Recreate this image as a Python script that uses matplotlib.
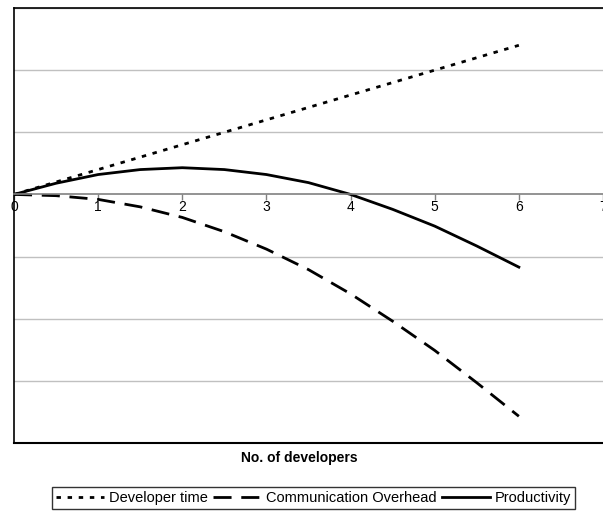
import matplotlib
matplotlib.use("Agg")
import matplotlib.pyplot as plt

plt.rcParams['font.family'] = ['Liberation Sans', 'DejaVu Sans']

developers = [0, 0.5, 1, 1.5, 2, 2.5, 3, 3.5, 4, 4.5, 5, 5.5, 6]
developer_time = [0, 0.2, 0.4, 0.6, 0.8, 1.0, 1.2, 1.4, 1.6, 1.8, 2.0, 2.2, 2.4]
communication_overhead = [0, -0.02, -0.08, -0.2, -0.37, -0.6, -0.88, -1.21, -1.6, -2.04, -2.51, -3.03, -3.57]
productivity = [0, 0.18, 0.32, 0.4, 0.43, 0.4, 0.32, 0.19, 0, -0.24, -0.51, -0.83, -1.17]
x_ticks = [0, 1, 2, 3, 4, 5, 6, 7]
y_grid = [-4, -3, -2, -1, 0, 1, 2, 3]

fig = plt.figure(figsize=(6.03, 5.12), dpi=100)
ax = fig.add_axes([14/603, 1-443/512, 589/603, 435/512])

ax.plot(developers, developer_time, color='black', lw=2.0, linestyle=(0, (1.6, 2.4)),
        label='Developer time')
ax.plot(developers, communication_overhead, color='black', lw=2.0, linestyle=(0, (6.5, 3.5)),
        label='Communication Overhead')
ax.plot(developers, productivity, color='black', lw=2.0, linestyle='-',
        label='Productivity')

ax.set_xlim(0, 7)
ax.set_ylim(-4, 3)
for yv in y_grid:
    if yv != 0:
        ax.axhline(yv, color='#c0c0c0', lw=1.0, zorder=0)

ax.set_yticks([])
ax.set_xticks(x_ticks)
ax.set_xticklabels([str(v) for v in x_ticks], fontsize=10)
ax.spines['bottom'].set_position(('data', 0))
ax.spines['bottom'].set_color('#808080')
ax.spines['bottom'].set_linewidth(1.2)
ax.spines['right'].set_visible(False)
ax.spines['left'].set_linewidth(1.2)
ax.spines['top'].set_linewidth(1.2)
ax.tick_params(axis='x', direction='out', length=4, width=1, color='#808080', pad=0)
ax.axhline(-4, color='black', lw=1.5, clip_on=False)

fig.text(0.497, 1-458/512, 'No. of developers', ha='center', va='center',
         fontsize=10, fontweight='bold')

leg = fig.legend(loc='center', bbox_to_anchor=(0.52, 1-498/512), ncol=3, fontsize=10.5,
                 frameon=True, fancybox=False, edgecolor='black', handlelength=3.3,
                 handletextpad=0.3, columnspacing=0.4, borderpad=0.3)
leg.get_frame().set_linewidth(1.0)

fig.savefig('out.png', dpi=100)
